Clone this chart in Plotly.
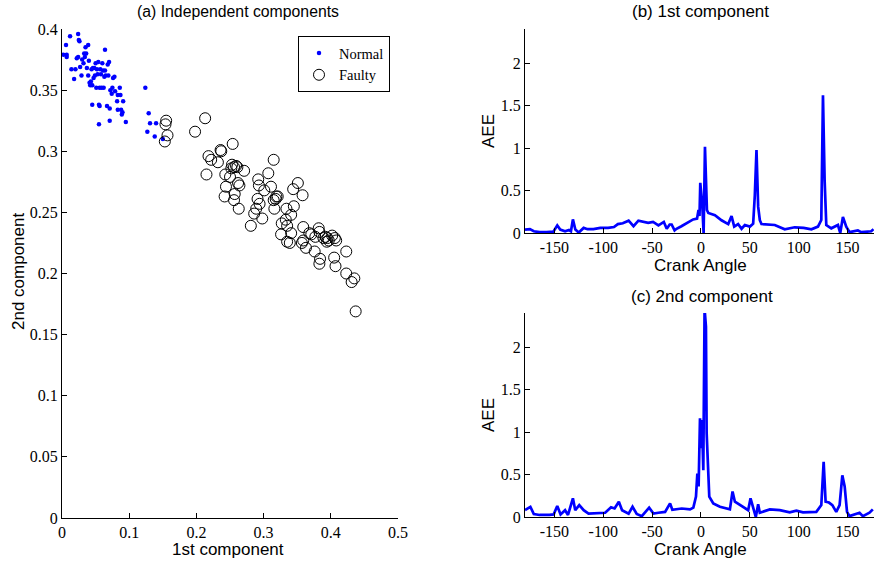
import plotly.graph_objects as go

# ---------------- data ----------------
normal_x = [0.002,0.006,0.007,0.007,0.012,0.014,0.018,0.020,0.022,0.024,
            0.025,0.026,0.024,0.027,0.029,0.030,0.032,0.033,0.034,0.035,
            0.036,0.037,0.039,0.039,0.040,0.041,0.042,0.043,0.044,0.045,
            0.045,0.046,0.047,0.048,0.049,0.050,0.051,0.052,0.053,0.054,
            0.055,0.055,0.056,0.056,0.057,0.058,0.059,0.060,0.061,0.062,
            0.063,0.064,0.064,0.065,0.067,0.068,0.069,0.070,0.071,0.071,
            0.072,0.074,0.075,0.076,0.078,0.079,0.082,0.083,0.083,0.086,
            0.087,0.088,0.089,0.090,0.091,0.095,0.124,0.129,0.131,0.127,
            0.138,0.140,0.150]
normal_y = [0.379,0.387,0.379,0.377,0.394,0.367,0.359,0.367,0.376,0.396,
            0.391,0.390,0.377,0.369,0.362,0.375,0.372,0.380,0.377,0.385,
            0.380,0.368,0.387,0.362,0.374,0.356,0.354,0.357,0.367,0.354,
            0.338,0.368,0.360,0.368,0.362,0.372,0.352,0.367,0.363,0.373,
            0.338,0.322,0.352,0.337,0.367,0.363,0.352,0.372,0.366,0.352,
            0.361,0.383,0.366,0.362,0.337,0.371,0.362,0.373,0.335,0.325,
            0.350,0.347,0.352,0.360,0.361,0.349,0.341,0.334,0.346,0.352,
            0.346,0.334,0.330,0.332,0.341,0.324,0.352,0.331,0.323,0.316,
            0.312,0.323,0.310]

faulty_x = [0.155,0.154,0.157,0.153,0.213,0.198,0.254,0.236,0.237,0.218,
            0.222,0.232,0.215,0.253,0.256,0.259,0.252,0.261,0.271,0.243,
            0.250,0.262,0.264,0.244,0.242,0.257,0.256,0.263,0.315,0.307,
            0.292,0.293,0.311,0.301,0.319,0.321,0.318,0.315,0.291,0.294,
            0.289,0.286,0.298,0.281,0.316,0.344,0.351,0.334,0.345,0.341,
            0.333,0.327,0.335,0.326,0.341,0.335,0.339,
            0.358,0.359,0.368,0.371,0.382,0.383,0.377,0.389,0.392,0.395,
            0.397,0.394,0.402,0.406,0.408,0.359,0.357,0.363,0.376,0.384,
            0.383,0.405,0.407,0.423,0.423,0.431,0.435,0.437]
faulty_y = [0.325,0.322,0.313,0.308,0.327,0.316,0.306,0.301,0.300,0.296,
            0.293,0.291,0.281,0.289,0.287,0.288,0.286,0.287,0.284,0.281,
            0.279,0.274,0.272,0.271,0.263,0.265,0.260,0.253,0.293,0.282,
            0.277,0.272,0.271,0.268,0.263,0.263,0.261,0.260,0.261,0.257,
            0.253,0.249,0.245,0.239,0.253,0.269,0.274,0.253,0.255,0.248,
            0.244,0.241,0.239,0.232,0.233,0.226,0.225,
            0.264,0.238,0.233,0.232,0.237,0.234,0.230,0.229,0.230,0.229,
            0.227,0.226,0.231,0.229,0.227,0.227,0.225,0.221,0.218,0.212,
            0.208,0.213,0.206,0.218,0.200,0.193,0.196,0.169]

angle_b = [-180,-175,-171,-165,-158,-151,-147,-144,-139,-135,-133,-131,-128.5,-125,-120,
           -116,-110,-103,-95,-89,-85,-80,-74,-69,-64,-59,-54,-49,-43.5,-38,-35,-32,-30,
           -27,-25,-20,-14,-8,-4,-2.5,-1.5,-0.7,1.4,2.7,4.1,6.1,7.5,14.3,21,27.9,31.3,34,
           38,41.5,44.9,50,53.4,55.1,56.8,58.5,60.2,61.9,75.5,85.7,95.9,105,113,119.7,
           123.1,124.8,126.5,128.2,133.3,140.1,142.5,145.2,148.6,152,160.5,164,174.2,176.5]
aee_b = [0.04,0.045,0.02,0.01,0.01,0.015,0.09,0.04,0.02,0.035,0.02,0.16,0.04,0.005,0.06,
         0.045,0.045,0.06,0.06,0.07,0.105,0.115,0.145,0.08,0.145,0.13,0.12,0.13,0.09,0.13,
         0.05,0.1,0.1,0.03,0.05,0.08,0.125,0.16,0.17,0.27,0.2,0.59,0.31,0.0,1.015,0.27,
         0.235,0.21,0.15,0.105,0.2,0.075,0.105,0.05,0.094,0.075,0.11,0.447,0.976,0.31,
         0.15,0.105,0.094,0.043,0.067,0.06,0.043,0.075,0.153,1.62,0.62,0.094,0.055,0.094,
         0.0,0.19,0.075,0.01,0.03,0.01,0.02,0.045]

angle_c = [-180,-174.5,-171,-165,-155,-150.7,-147,-143.6,-139,-136,-131,-128.6,-124.5,-120,
           -115,-105,-98,-92,-88.4,-84,-80.7,-74,-70,-65.7,-60.5,-53,-48.6,-43.5,-36.7,-31.6,
           -29.3,-19.7,-11.2,-7.8,-5.1,-3.7,-2.4,-1,0.3,1,2.4,3.7,5.1,5.8,7.1,8.5,12.6,19.4,
           29.6,32.3,34.7,43.2,48.3,50.7,53.4,56.1,58.5,60.2,70.4,80.6,90.8,97.6,104.4,118,
           123.1,125.5,127.5,130.9,134.4,138.4,141.8,144.6,147,149.4,152,162.2,165.6,172.4,175.8]
aee_c = [0.082,0.12,0.035,0.024,0.024,0.03,0.13,0.03,0.08,0.024,0.22,0.08,0.14,0.08,0.04,
         0.045,0.05,0.114,0.10,0.18,0.08,0.04,0.12,0.035,0.01,0.11,0.04,0.05,0.06,0.16,0.085,
         0.1,0.09,0.11,0.24,0.51,0.36,1.16,0.81,1.14,0.55,2.45,2.24,0.99,0.5,0.24,0.16,0.12,
         0.09,0.3,0.18,0.12,0.08,0.22,0.1,0.0,0.15,0.05,0.09,0.08,0.055,0.075,0.055,0.06,
         0.14,0.65,0.18,0.17,0.14,0.06,0.14,0.49,0.36,0.06,0.01,0.05,0.01,0.05,0.09]

left_xticks = [0, 0.1, 0.2, 0.3, 0.4, 0.5]
left_yticks = [0, 0.05, 0.1, 0.15, 0.2, 0.25, 0.3, 0.35, 0.4]
angle_ticks = [-150, -100, -50, 0, 50, 100, 150]
aee_ticks = [0, 0.5, 1, 1.5, 2]

# ---------------- figure ----------------
W, H = 874, 561
SERIF = "Liberation Serif, Times New Roman, serif"
SANS = "Liberation Sans, Arial, sans-serif"
BLUE = "#0000FF"

def px(x):
    return x / W

def py(y):
    return 1 - y / H

fig = go.Figure()

fig.add_trace(go.Scatter(x=normal_x, y=normal_y, mode="markers", name="Normal",
                         marker=dict(size=4.5, color=BLUE), xaxis="x", yaxis="y"))
fig.add_trace(go.Scatter(x=faulty_x, y=faulty_y, mode="markers", name="Faulty",
                         marker=dict(size=11, symbol="circle-open", color="black",
                                     line=dict(width=1, color="black")),
                         xaxis="x", yaxis="y"))
fig.add_trace(go.Scatter(x=angle_b, y=aee_b, mode="lines", showlegend=False,
                         line=dict(color=BLUE, width=2.7), xaxis="x2", yaxis="y2"))
fig.add_trace(go.Scatter(x=angle_c, y=aee_c, mode="lines", showlegend=False,
                         line=dict(color=BLUE, width=2.7), xaxis="x3", yaxis="y3"))

axis_common = dict(showline=True, linecolor="black", linewidth=1, ticks="inside",
                   ticklen=5, tickcolor="black", showgrid=False, zeroline=False,
                   automargin=False,
                   tickfont=dict(family=SERIF, size=16, color="black"), mirror=False)

fig.update_layout(
    width=W, height=H, margin=dict(l=0, r=0, t=0, b=0, pad=0, autoexpand=False),
    paper_bgcolor="white", plot_bgcolor="white",
    xaxis=dict(domain=[px(62), px(398)], range=[0, 0.5], tickvals=left_xticks,
               ticktext=[f"{v:g}" for v in left_xticks], anchor="y", **axis_common),
    yaxis=dict(domain=[py(518), py(29)], range=[0, 0.4], tickvals=left_yticks,
               ticktext=[f"{v:g}" for v in left_yticks], anchor="x", **axis_common),
    xaxis2=dict(domain=[px(525), 1.0], range=[-180, 177], tickvals=angle_ticks,
                ticktext=[str(v) for v in angle_ticks], anchor="y2", **axis_common),
    yaxis2=dict(domain=[py(233), py(29)], range=[0, 2.4], tickvals=aee_ticks,
                ticktext=[f"{v:g}" for v in aee_ticks], anchor="x2", **axis_common),
    xaxis3=dict(domain=[px(525), 1.0], range=[-180, 177], tickvals=angle_ticks,
                ticktext=[str(v) for v in angle_ticks], anchor="y3", **axis_common),
    yaxis3=dict(domain=[py(517), py(313)], range=[0, 2.4], tickvals=aee_ticks,
                ticktext=[f"{v:g}" for v in aee_ticks], anchor="x3", **axis_common),
    legend=dict(x=px(298), y=py(36), xanchor="left", yanchor="top",
                bordercolor="black", borderwidth=1, bgcolor="white",
                font=dict(family=SERIF, size=14.5, color="black"),
                tracegroupgap=0, itemwidth=30),
    showlegend=True,
)

def label(text, x, y, angle=0, size=17):
    fig.add_annotation(text=text, x=px(x), y=py(y), xref="paper", yref="paper",
                       showarrow=False, textangle=angle, xanchor="center", yanchor="middle",
                       font=dict(family=SANS, size=size, color="black"))

label("(a) Independent components", 238, 12, size=15.8)
label("(b) 1st component", 700, 12)
label("(c) 2nd component", 702, 296)
label("1st component", 228, 549)
label("2nd component", 18, 272, angle=-90)
label("AEE", 488, 131, angle=-90)
label("AEE", 488, 415, angle=-90)
label("Crank Angle", 700, 265)
label("Crank Angle", 700, 549)

# remove the browser's default 8px body margin so the figure sits at the window corner
fig.write_html("out.html",
               config={"displayModeBar": False},
               post_script="document.body.style.margin='0';document.body.style.overflow='hidden';")
